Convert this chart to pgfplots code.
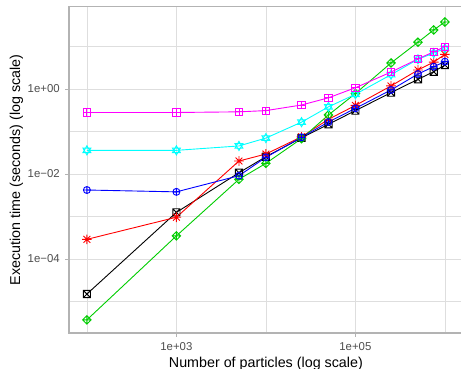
\documentclass[border=0pt]{standalone}
\usepackage{fontspec}
\setmainfont{Liberation Sans}
\usepackage{pgfplots}
\pgfplotsset{compat=1.18}
\definecolor{grey70}{HTML}{B3B3B3}
\definecolor{grey87}{HTML}{DEDEDE}
\definecolor{grey30}{HTML}{4D4D4D}
\definecolor{rgreen}{HTML}{00CD00}
\definecolor{rred}{HTML}{FF0000}
\definecolor{rblue}{HTML}{0000FF}
\definecolor{rcyan}{HTML}{00FFFF}
\definecolor{rmagenta}{HTML}{FF00FF}
\pgfdeclareplotmark{boxplus}{%
 \pgfpathrectangle{\pgfpoint{-\pgfplotmarksize}{-\pgfplotmarksize}}{\pgfpoint{2\pgfplotmarksize}{2\pgfplotmarksize}}%
 \pgfpathmoveto{\pgfpoint{-\pgfplotmarksize}{0pt}}\pgfpathlineto{\pgfpoint{\pgfplotmarksize}{0pt}}%
 \pgfpathmoveto{\pgfpoint{0pt}{-\pgfplotmarksize}}\pgfpathlineto{\pgfpoint{0pt}{\pgfplotmarksize}}%
 \pgfusepathqstroke}
\pgfdeclareplotmark{boxtimes}{%
 \pgfpathrectangle{\pgfpoint{-\pgfplotmarksize}{-\pgfplotmarksize}}{\pgfpoint{2\pgfplotmarksize}{2\pgfplotmarksize}}%
 \pgfpathmoveto{\pgfpoint{-\pgfplotmarksize}{-\pgfplotmarksize}}\pgfpathlineto{\pgfpoint{\pgfplotmarksize}{\pgfplotmarksize}}%
 \pgfpathmoveto{\pgfpoint{-\pgfplotmarksize}{\pgfplotmarksize}}\pgfpathlineto{\pgfpoint{\pgfplotmarksize}{-\pgfplotmarksize}}%
 \pgfusepathqstroke}
\pgfdeclareplotmark{diamondplus}{%
 \pgfpathmoveto{\pgfpoint{-\pgfplotmarksize}{0pt}}%
 \pgfpathlineto{\pgfpoint{0pt}{\pgfplotmarksize}}%
 \pgfpathlineto{\pgfpoint{\pgfplotmarksize}{0pt}}%
 \pgfpathlineto{\pgfpoint{0pt}{-\pgfplotmarksize}}\pgfpathclose
 \pgfpathmoveto{\pgfpoint{-\pgfplotmarksize}{0pt}}\pgfpathlineto{\pgfpoint{\pgfplotmarksize}{0pt}}%
 \pgfpathmoveto{\pgfpoint{0pt}{-\pgfplotmarksize}}\pgfpathlineto{\pgfpoint{0pt}{\pgfplotmarksize}}%
 \pgfusepathqstroke}
\pgfdeclareplotmark{david}{%
 \pgfpathmoveto{\pgfpoint{0pt}{\pgfplotmarksize}}%
 \pgfpathlineto{\pgfpoint{-0.866\pgfplotmarksize}{-0.5\pgfplotmarksize}}%
 \pgfpathlineto{\pgfpoint{0.866\pgfplotmarksize}{-0.5\pgfplotmarksize}}\pgfpathclose
 \pgfpathmoveto{\pgfpoint{0pt}{-\pgfplotmarksize}}%
 \pgfpathlineto{\pgfpoint{-0.866\pgfplotmarksize}{0.5\pgfplotmarksize}}%
 \pgfpathlineto{\pgfpoint{0.866\pgfplotmarksize}{0.5\pgfplotmarksize}}\pgfpathclose
 \pgfusepathqstroke}
\pgfdeclareplotmark{ast8}{%
 \pgfpathmoveto{\pgfpoint{-\pgfplotmarksize}{0pt}}\pgfpathlineto{\pgfpoint{\pgfplotmarksize}{0pt}}%
 \pgfpathmoveto{\pgfpoint{0pt}{-\pgfplotmarksize}}\pgfpathlineto{\pgfpoint{0pt}{\pgfplotmarksize}}%
 \pgfpathmoveto{\pgfpoint{-0.707\pgfplotmarksize}{-0.707\pgfplotmarksize}}\pgfpathlineto{\pgfpoint{0.707\pgfplotmarksize}{0.707\pgfplotmarksize}}%
 \pgfpathmoveto{\pgfpoint{-0.707\pgfplotmarksize}{0.707\pgfplotmarksize}}\pgfpathlineto{\pgfpoint{0.707\pgfplotmarksize}{-0.707\pgfplotmarksize}}%
 \pgfusepathqstroke}
\begin{document}
\begin{tikzpicture}
\useasboundingbox (-69bp,-36bp) rectangle (392bp,333bp);
\begin{axis}[
  at={(0,0)}, anchor=south west,
  scale only axis, width=393.8bp, height=326.3bp,
  xmode=log, ymode=log,
  xmin=63.1, xmax=1.585e6,
  ymin=1.816e-6, ymax=86.3,
  xtick={1e3,1e5}, xticklabels={1e+03,1e+05},
  ytick={1e-4,1e-2,1},
  yticklabels={1e−04,1e−02,1e+00},
  minor xtick={1e2,1e4,1e6},
  minor ytick={1e-5,1e-3,1e-1,1e1},
  minor tick length=0pt,
  major tick length=3.6bp,
  tick align=outside,
  xtick pos=bottom, ytick pos=left,
  tick style={grey70, line width=0.7bp},
  grid=both,
  major grid style={grey87, line width=0.8bp},
  minor grid style={grey87, line width=0.5bp},
  axis line style={grey70, line width=1.2bp},
  tick label style={font=\fontsize{11.4bp}{13bp}\selectfont, text=grey30, inner sep=0pt},
  xticklabel style={anchor=base, yshift=-13.5bp},
  yticklabel style={anchor=east, xshift=-5.5bp},
  label style={font=\fontsize{14.3bp}{16bp}\selectfont, inner sep=0pt},
  xlabel={Number of particles (log scale)},
  ylabel={Execution time (seconds) (log scale)},
  xlabel style={at={(axis description cs:0.5,-0.1043)}, anchor=base},
  ylabel style={at={(axis description cs:-0.1244,0.5)}, anchor=base},
  every axis plot/.append style={line width=0.9bp, mark options={solid, line width=0.9bp}},
]
\addplot[black, mark=boxtimes, mark size=3.6bp] coordinates {
(100,1.5e-5) (1000,1.25e-3) (5000,0.0107) (10000,0.0255) (25000,0.071) (50000,0.148) (100000,0.31) (250000,0.82) (500000,1.69) (750000,2.55) (1000000,3.67)};
\addplot[rred, mark=ast8, mark size=4.8bp] coordinates {
(100,2.9e-4) (1000,9.6e-4) (5000,0.0202) (10000,0.0295) (25000,0.075) (50000,0.194) (100000,0.41) (250000,1.18) (500000,2.8) (750000,4.3) (1000000,6.5)};
\addplot[rgreen, mark=diamondplus, mark size=4.3bp] coordinates {
(100,3.7e-6) (1000,3.5e-4) (5000,7.5e-3) (10000,0.0178) (25000,0.068) (50000,0.245) (100000,0.78) (250000,4.1) (500000,12.6) (750000,24.5) (1000000,37.7)};
\addplot[rblue, mark=oplus, mark size=3.5bp] coordinates {
(100,4.2e-3) (1000,3.8e-3) (5000,9.1e-3) (10000,0.0247) (25000,0.073) (50000,0.167) (100000,0.35) (250000,0.95) (500000,2.25) (750000,3.35) (1000000,4.4)};
\addplot[rcyan, mark=david, mark size=4.6bp] coordinates {
(100,0.036) (1000,0.036) (5000,0.0457) (10000,0.070) (25000,0.166) (50000,0.38) (100000,0.75) (250000,2.17) (500000,5.0) (750000,7.0) (1000000,9.0)};
\addplot[rmagenta, mark=boxplus, mark size=3.6bp] coordinates {
(100,0.28) (1000,0.28) (5000,0.29) (10000,0.31) (25000,0.42) (50000,0.62) (100000,1.07) (250000,2.5) (500000,5.1) (750000,7.5) (1000000,9.9)};
\end{axis}
\end{tikzpicture}
\end{document}
